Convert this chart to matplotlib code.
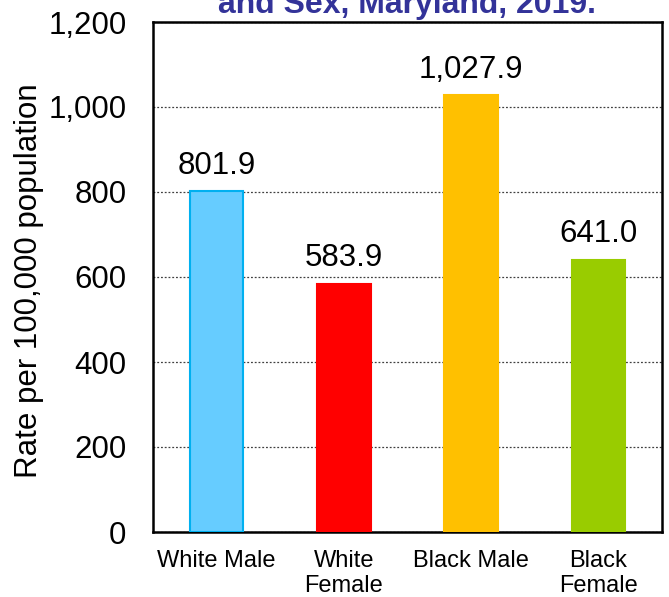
import matplotlib.pyplot as plt

# ---- data ----
groups = ['White Male', 'White\nFemale', 'Black Male', 'Black\nFemale']
rates = [801.9, 583.9, 1027.9, 641.0]
labels = ['801.9', '583.9', '1,027.9', '641.0']
bar_colors = ['#66CCFF', '#FF0000', '#FFC000', '#99CC00']
edge_colors = ['#00B0F0', '#FF0000', '#FFC000', '#99CC00']
y_ticks = [0, 200, 400, 600, 800, 1000, 1200]
y_tick_labels = ['0', '200', '400', '600', '800', '1,000', '1,200']

plt.rcParams['font.family'] = ['Liberation Sans', 'DejaVu Sans']

fig = plt.figure(figsize=(6.69, 5.97), dpi=100)
ax = fig.add_axes([153 / 669, 1 - 532 / 597, 509 / 669, 510 / 597])

x = range(len(groups))
bars = ax.bar(x, rates, width=0.42, color=bar_colors, edgecolor=edge_colors,
              linewidth=1.5, zorder=3)

for xi, r, lab in zip(x, rates, labels):
    ax.annotate(lab, (xi, r), xytext=(0, 12.5), textcoords='offset points',
                ha='center', va='baseline', fontsize=22.5)

ax.set_xlim(-0.5, 3.5)
ax.set_ylim(0, 1200)
ax.set_yticks(y_ticks)
ax.set_yticklabels(y_tick_labels)
ax.set_xticks(list(x))
ax.set_xticklabels(groups, linespacing=1.15)
ax.tick_params(axis='y', length=0, pad=19, labelsize=22.5)
ax.tick_params(axis='x', length=0, pad=13, labelsize=17)

ax.yaxis.grid(True, linestyle=(0, (1.5, 1.5)), color='#404040', linewidth=0.9, zorder=0)
ax.set_axisbelow(True)
for s in ax.spines.values():
    s.set_linewidth(1.8)
    s.set_color('black')

ax.set_ylabel('Rate per 100,000 population', fontsize=22.5)
ax.yaxis.set_label_coords(-0.214, 0.493)

# title is cut off at the top of the original image
fig.text((153 + 662) / 2 / 669, 1 - 13 / 597, 'and Sex, Maryland, 2019.',
         ha='center', va='baseline', fontsize=23, fontweight='bold', color='#333399')

fig.savefig('out.png', dpi=100)
